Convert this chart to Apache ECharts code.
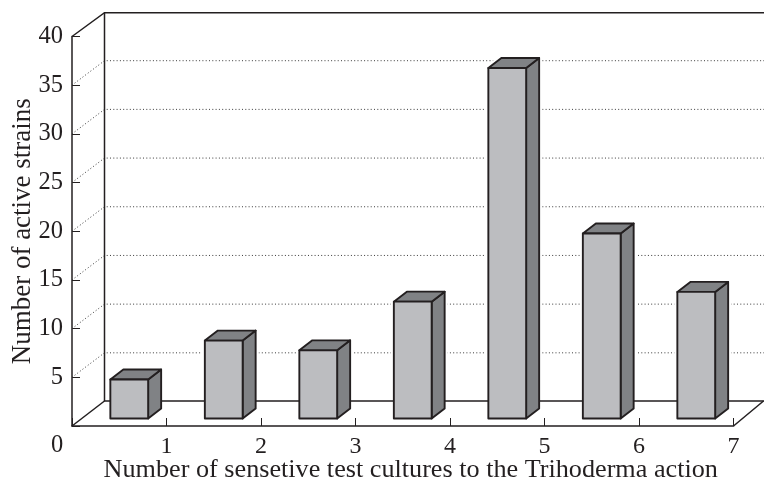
<!DOCTYPE html>
<html>
<head>
<meta charset="utf-8">
<style>
  html, body { margin: 0; padding: 0; background: #fff; }
  #chart { width: 764px; height: 480px; }
</style>
</head>
<body>
<div id="chart"></div>
<script src="https://cdn.jsdelivr.net/npm/echarts@6/dist/echarts.min.js"></script>
<script>
const xTicks = [0, 1, 2, 3, 4, 5, 6, 7];
const barPositions = [0.5, 1.5, 2.5, 3.5, 4.5, 5.5, 6.5];
const activeStrains = [4, 8, 7, 12, 36, 19, 13];
const gridLevels = [5, 10, 15, 20, 25, 30, 35];

const FONT = '"Liberation Serif", serif';
const INK = '#231f20';

// fake 3d: how far the back wall sits from the front axes, in px
const WALL_DX = 32.5, WALL_DY = -24.5;
const FLOOR_DX = 10, FLOOR_DY = -7.5;   // front face of the bars
const BAR_DX = 13, BAR_DY = -10;      // bar depth
const BAR_WIDTH = 0.4;                // x axis units

function barShape(api) {
  const base = api.coord([api.value(0), 0]);
  const top = api.coord([api.value(0), api.value(1)]);
  const w = api.size([BAR_WIDTH, 0])[0];
  const x0 = base[0] - w / 2 + FLOOR_DX;
  const x1 = x0 + w;
  const y0 = base[1] + FLOOR_DY;
  const y1 = top[1] + FLOOR_DY;
  return { x0, x1, y0, y1 };
}

function renderGridLine(params, api) {
  const p = api.coord([0, api.value(0)]);
  return {
    type: 'polyline',
    shape: { points: [p, [p[0] + WALL_DX, p[1] + WALL_DY], [764, p[1] + WALL_DY]] },
    style: { fill: null, stroke: '#3a3a3a', lineWidth: 1, lineDash: [1, 2.3] }
  };
}

// white gap the dotted lines leave around each bar
function renderHalo(params, api) {
  const s = barShape(api);
  return {
    type: 'polygon',
    shape: { points: [[s.x0, s.y1], [s.x0 + BAR_DX, s.y1 + BAR_DY], [s.x1 + BAR_DX, s.y1 + BAR_DY], [s.x1 + BAR_DX, s.y0 + BAR_DY], [s.x1, s.y0], [s.x0, s.y0]] },
    style: { fill: '#fff', stroke: '#fff', lineWidth: 6 }
  };
}

function renderWalls(params, api) {
  const o = api.coord([0, 0]);
  const t = api.coord([0, 40]);
  const r = api.coord([7, 0]);
  const line = (pts) => ({
    type: 'polyline',
    shape: { points: pts },
    style: { fill: null, stroke: INK, lineWidth: 1.5 }
  });
  const backX = o[0] + WALL_DX;
  const floorY = o[1] + WALL_DY - 0.5;
  const topY = t[1] + WALL_DY + 0.7;
  return {
    type: 'group',
    children: [
      line([t, [backX, topY], [764, topY]]),
      line([[backX, topY], [backX, floorY], [764, floorY]]),
      line([o, [backX, floorY]]),
      line([r, [r[0] + 30, floorY]])
    ]
  };
}

function renderBar(params, api) {
  const s = barShape(api);
  const edge = { stroke: INK, lineWidth: 1.9, lineJoin: 'round' };
  return {
    type: 'group',
    children: [
      {
        type: 'polygon',
        shape: { points: [[s.x1, s.y1], [s.x1 + BAR_DX, s.y1 + BAR_DY], [s.x1 + BAR_DX, s.y0 + BAR_DY], [s.x1, s.y0]] },
        style: Object.assign({ fill: '#808285' }, edge)
      },
      {
        type: 'polygon',
        shape: { points: [[s.x0, s.y1], [s.x0 + BAR_DX, s.y1 + BAR_DY], [s.x1 + BAR_DX, s.y1 + BAR_DY], [s.x1, s.y1]] },
        style: Object.assign({ fill: '#808285' }, edge)
      },
      {
        type: 'rect',
        shape: { x: s.x0, y: s.y1, width: s.x1 - s.x0, height: s.y0 - s.y1 },
        style: Object.assign({ fill: '#bcbdc0' }, edge)
      }
    ]
  };
}

const barData = barPositions.map((x, i) => [x, activeStrains[i]]);
const axisLine = { show: true, lineStyle: { color: INK, width: 1.5 } };

const chart = echarts.init(document.getElementById('chart'), null, { renderer: 'canvas' });
chart.setOption({
  animation: false,
  backgroundColor: '#fff',
  textStyle: { fontFamily: FONT },
  grid: { left: 72, right: 30.5, top: 36.5, bottom: 54, outerBoundsMode: 'none' },
  xAxis: {
    type: 'value',
    min: xTicks[0],
    max: xTicks[xTicks.length - 1],
    interval: 1,
    splitLine: { show: false },
    axisLine: axisLine,
    axisTick: { show: true, inside: true, length: 8, lineStyle: { color: INK, width: 1 } },
    axisLabel: {
      color: INK,
      fontFamily: FONT,
      fontSize: 24,
      margin: 9,
      showMinLabel: true,
      formatter: (v) => (v === 0 ? '' : String(v))
    },
    name: 'Number of sensetive test cultures to the Trihoderma action',
    nameLocation: 'middle',
    nameGap: 31,
    nameMoveOverlap: false,
    nameTextStyle: { color: INK, fontFamily: FONT, fontSize: 26.2, padding: [0, 0, 0, 16] }
  },
  yAxis: {
    type: 'value',
    min: 0,
    max: 40,
    interval: 5,
    splitLine: { show: false },
    axisLine: axisLine,
    axisTick: { show: true, inside: true, length: 8, lineStyle: { color: INK, width: 1 } },
    axisLabel: {
      color: INK,
      fontFamily: FONT,
      fontSize: 24.5,
      margin: 9,
      formatter: (v) => (v === 0 ? '' : String(v))
    },
    name: 'Number of active strains',
    nameLocation: 'middle',
    nameGap: 36,
    nameMoveOverlap: false,
    nameTextStyle: { color: INK, fontFamily: FONT, fontSize: 27 }
  },
  graphic: [{
    type: 'text',
    x: 57,
    y: 446,
    style: { text: '0', fontFamily: FONT, fontSize: 24.5, fill: INK, align: 'center', verticalAlign: 'middle' }
  }],
  series: [
    { type: 'custom', name: 'grid', clip: false, silent: true, z: 1, renderItem: renderGridLine, data: gridLevels.map((v) => [v]) },
    { type: 'custom', name: 'halo', clip: false, silent: true, z: 2, renderItem: renderHalo, data: barData },
    { type: 'custom', name: 'walls', clip: false, silent: true, z: 3, renderItem: renderWalls, data: [[0]] },
    { type: 'custom', name: 'Number of active strains', clip: false, silent: true, z: 4, renderItem: renderBar, data: barData }
  ]
});
</script>
</body>
</html>
